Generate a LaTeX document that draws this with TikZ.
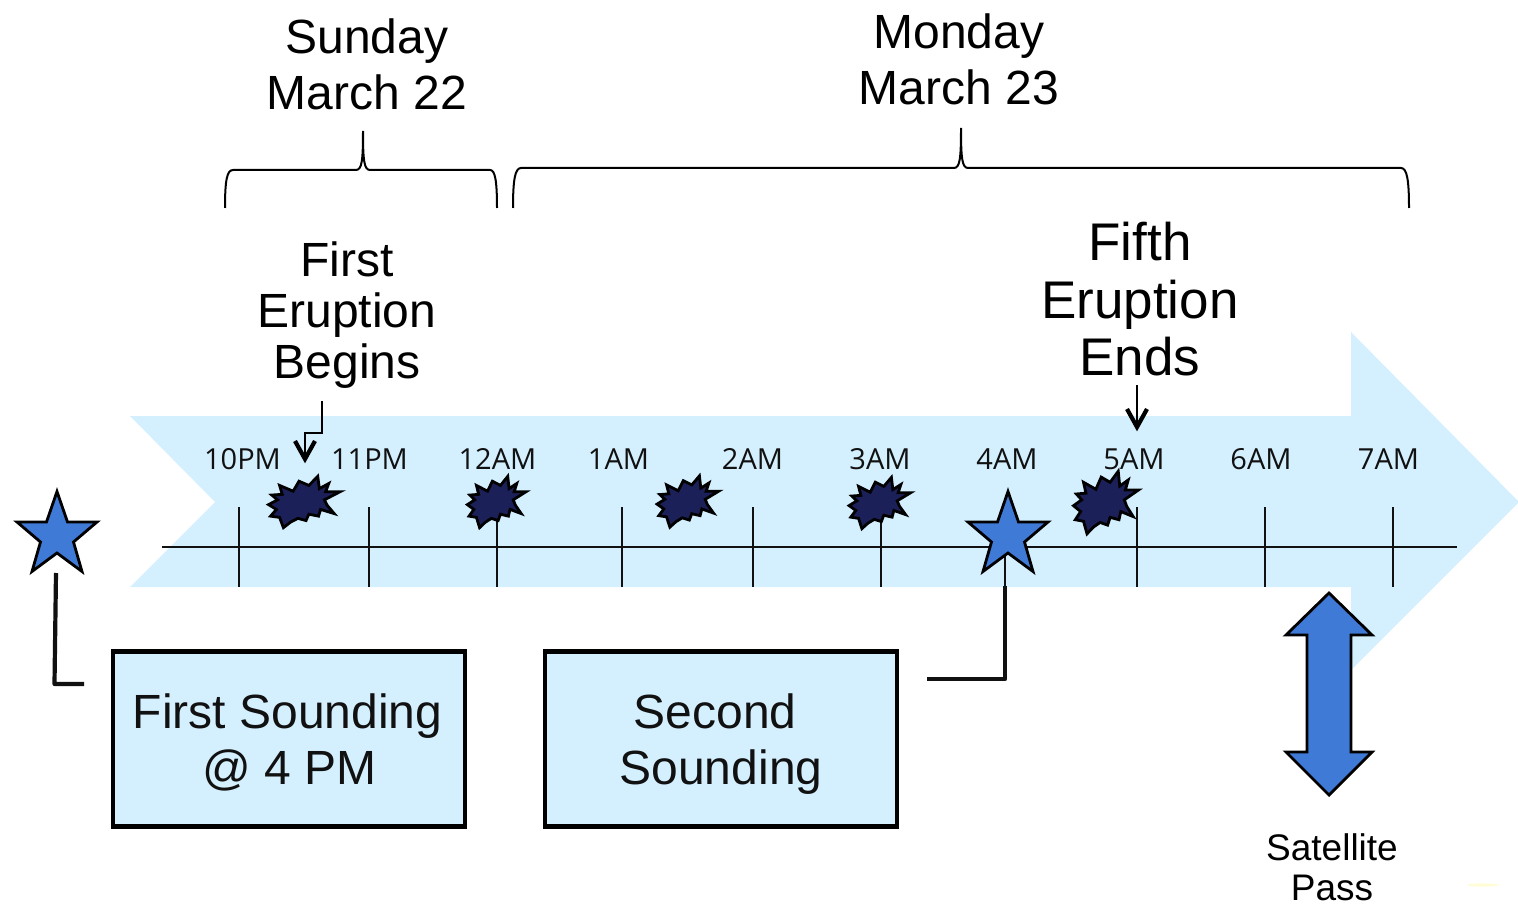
\documentclass[tikz,border=0pt]{standalone}
\usepackage{fontspec}
\setmainfont{Liberation Sans}
\newfontfamily\hourfont{Open Sans}
\usetikzlibrary{arrows.meta}
\definecolor{bandblue}{HTML}{D4F0FF}
\definecolor{starblue}{HTML}{3F7AD6}
\definecolor{burstnavy}{HTML}{1C2058}
\definecolor{inkblack}{HTML}{111111}
\definecolor{paleyellow}{HTML}{FFFDD6}
\tikzset{
  band/.style={fill=bandblue,draw=none},
  tickline/.style={draw=inkblack,line width=2pt},
  starshape/.style={fill=starblue,draw=black,line width=2.8pt,miter limit=10},
  burstshape/.style={fill=burstnavy,draw=black,line width=2.8pt,miter limit=10},
  elbow/.style={draw=inkblack,line width=4.2pt,line join=round},
  brace/.style={draw=black,line width=2pt},
  pointer/.style={draw=black,line width=1.6pt},
  pointerhead/.style={draw=black,line width=4.2pt,miter limit=10},
  sounding/.style={draw=black,fill=bandblue,line width=4.4pt,minimum width=352pt,minimum height=175pt,inner sep=0pt,align=center,text=inkblack,text depth=-4pt,font=\fontsize{48}{56}\selectfont},
  daylabel/.style={align=center,text=black,font=\fontsize{48}{55.5}\selectfont,inner sep=0pt},
  hourlabel/.style={text=inkblack,inner sep=0pt,font=\hourfont\fontsize{29}{32}\selectfont}
}
\newcommand{\burstat}[4]{%
  \path[burstshape,shift={(#1,#2)},xscale=#3*0.96,yscale=#4*0.96]
  (14.3,-27.7)--(15.7,-15)--(23.7,-20.3)--(21,-11.7)--(33.3,-11.7)--(20,-3.3)--(22.3,2.3)--(28.3,11)--(16.7,6.7)--(15,13.7)--(6.7,11.7)--(4.3,18.3)--(-2.7,16)--(-9,20)--(-15,25.7)--(-18.3,15)--(-26,13.7)--(-21,6.7)--(-27.7,1.7)--(-20,-3.3)--(-25,-8.3)--(-16,-9)--(-18.3,-18.3)--(-6.7,-12.3)--(-1.7,-22.7)--(6.7,-18.3)--cycle;}
\newcommand{\starat}[2]{%
  \path[starshape,shift={(#1,#2)}]
  (0,-41.5)--(10.5,-11)--(40,-11)--(16.5,9)--(25,38.5)--(0,20)--(-25,38.5)--(-16.5,9)--(-40,-11)--(-10.5,-11)--cycle;}
\begin{document}
\begin{tikzpicture}[x=1pt,y=-1pt]
\useasboundingbox (0,0) rectangle (1518,909);
% timeline band
\path[band] (130,416)--(1351,416)--(1351,332)--(1519,502)--(1351,670)--(1351,587)--(130,587)--(215,502)--cycle;
% axis and ticks
\draw[tickline] (162,547)--(1457,547);
\foreach \tx in {239,369,497,622,753,881,1265,1393}{\draw[tickline] (\tx,507)--(\tx,587);}
\draw[tickline,line width=2.6pt] (1137,507)--(1137,587);
\draw[tickline] (1005,550)--(1005,587);
% hour labels
\node[hourlabel] (h10) at (242.5,459) {10PM};
\node[hourlabel] (h11) at (369.5,459) {11PM};
\node[hourlabel] (h12) at (497.5,459) {12AM};
\node[hourlabel] (h1) at (618.5,459) {1AM};
\node[hourlabel] (h2) at (752.5,459) {2AM};
\node[hourlabel] (h3) at (880,459) {3AM};
\node[hourlabel] (h4) at (1007,459) {4AM};
\node[hourlabel] (h5) at (1134,459) {5AM};
\node[hourlabel] (h6) at (1261,459) {6AM};
\node[hourlabel] (h7) at (1388.5,459) {7AM};
% bursts
\burstat{301}{503}{1.22}{1}
\burstat{494}{503}{1}{1}
\burstat{685}{502.5}{1.05}{1}
\burstat{877}{504}{1.05}{1}
\burstat{1103}{503.7}{1.11}{1.22}
% stars
\starat{57}{533}
\starat{1008}{533}
% braces
\draw[brace] (225,208) .. controls (225,180) and (227,170) .. (233,170) -- (356,170) .. controls (362,170) and (363,160) .. (363,131) .. controls (363,160) and (364,170) .. (370,170) -- (490,170) .. controls (495,170) and (497,180) .. (497,208);
\draw[brace] (513,208) .. controls (513,180) and (515,168) .. (521,168) -- (954,168) .. controls (960,168) and (961,158) .. (961,128) .. controls (961,158) and (962,168) .. (968,168) -- (1401,168) .. controls (1407,168) and (1409,180) .. (1409,208);
% headings
\node[daylabel] (sunday) at (367,64.5) {Sunday\\March 22};
\node[daylabel] (monday) at (959,59.5) {Monday\\March 23};
\node[daylabel,font=\fontsize{48}{51}\selectfont] (first) at (347,315) {First\\Eruption\\Begins};
\node[daylabel,font=\fontsize{53}{57.5}\selectfont] (fifth) at (1140,299.5) {Fifth\\Eruption\\Ends};
% eruption pointers
\coordinate (firstfrom) at (322,401);
\coordinate (firstto) at (305,459);
\coordinate (fifthfrom) at (1137,385);
\coordinate (fifthto) at (1137,427);
\draw[pointer] (firstfrom) -- (322,433) -- (305,433) -- (firstto);
\draw[pointer] (fifthfrom) -- (fifthto);
\draw[pointerhead] ([shift={(-10,-18)}]firstto) -- (firstto) -- ([shift={(10,-18)}]firstto);
\draw[pointerhead] ([shift={(-10,-18)}]fifthto) -- (fifthto) -- ([shift={(10,-18)}]fifthto);
% boxes
\node[sounding] (soundone) at (289,739) {\hspace*{-3pt}First Sounding\\[0pt]\hspace*{1pt}@ 4 PM};
\node[sounding] (soundtwo) at (721,739) {\hspace*{-12pt}Second\\Sounding};
% elbows
\coordinate (staronefoot) at (56,573);
\coordinate (oneend) at (84,684);
\coordinate (startwofoot) at (1005,586);
\coordinate (twoend) at (927,679);
\draw[elbow] (staronefoot) -- (54.5,684) -- (oneend);
\draw[elbow] (startwofoot) -- (1005,679) -- (twoend);
% satellite arrow
\path[fill=starblue,draw=black,line width=2.8pt,miter limit=10] (1329,593)--(1372,635)--(1351,635)--(1351,752)--(1372,752)--(1329,795)--(1286,752)--(1307,752)--(1307,635)--(1286,635)--cycle;
\node[daylabel,font=\fontsize{37}{40}\selectfont] (satellite) at (1332,867) {Satellite\\Pass};
% faint mark
\path[fill=paleyellow] (1483,885) ellipse (16 and 1.6);
\end{tikzpicture}
\end{document}
